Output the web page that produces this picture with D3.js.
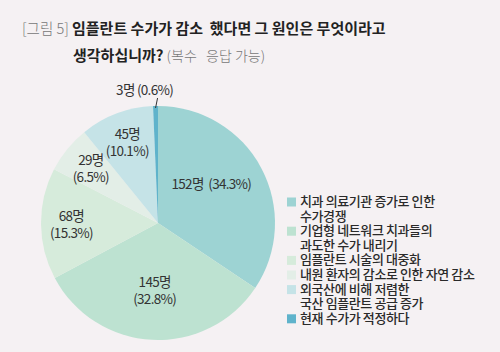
<!DOCTYPE html>
<html>
<head>
<meta charset="utf-8">
<script src="https://cdn.jsdelivr.net/npm/d3@7"></script>
<style>
  body { margin: 0; background: #f5f1f3; }
  svg { display: block; font-family: "Noto Sans CJK KR", sans-serif; }
  text { white-space: pre; }
</style>
</head>
<body>
<svg id="chart" width="500" height="352"></svg>
<script>
const categories = [
  ["치과 의료기관 증가로 인한", "수가경쟁"],
  ["기업형 네트워크 치과들의", "과도한 수가 내리기"],
  ["임플란트 시술의 대중화"],
  ["내원 환자의 감소로 인한 자연 감소"],
  ["외국산에 비해 저렴한", "국산 임플란트 공급 증가"],
  ["현재 수가가 적정하다"]
];
const counts = [152, 145, 68, 29, 45, 3];
const percents = ["34.3", "32.8", "15.3", "6.5", "10.1", "0.6"];
const colors = ["#9dd3d3", "#bde2d1", "#d6ebdb", "#e3eee7", "#c5e3e7", "#5fb3cb"];

const svg = d3.select("#chart");

// title
const title = svg.append("text").attr("x", 22).attr("y", 34).attr("font-size", 15);
title.append("tspan").attr("fill", "#777").attr("font-weight", 300).attr("font-size", 14.5).text("[그림 5] ");
title.append("tspan").attr("fill", "#222").attr("font-weight", 700).text("임플란트 수가가 감소  했다면 그 원인은 무엇이라고");
const title2 = svg.append("text").attr("x", 73).attr("y", 61).attr("font-size", 15);
title2.append("tspan").attr("fill", "#222").attr("font-weight", 700).text("생각하십니까?");
title2.append("tspan").attr("fill", "#777").attr("font-weight", 300).attr("font-size", 14).text(" (복수   응답 가능)");

// pie
const cx = 158, cy = 223, r = 117;
const data = counts.map((v, i) => ({ value: v, pct: percents[i], color: colors[i], i }));
const pie = d3.pie().value(d => d.value).sort(null);
const arc = d3.arc().innerRadius(0).outerRadius(r);
const arcs = pie(data);

const g = svg.append("g").attr("transform", `translate(${cx},${cy})`);
g.selectAll("path")
  .data(arcs)
  .join("path")
  .attr("d", arc)
  .attr("fill", d => d.data.color);

const labelArc = d => d3.arc().innerRadius(0)
  .outerRadius(d.data.value > 100 ? r * 1.15 : r * 1.48);

const labels = g.selectAll("g.lab")
  .data(arcs.filter(d => d.data.value > 10))
  .join("g")
  .attr("class", "lab")
  .attr("transform", d => {
    const [x, y] = labelArc(d).centroid(d);
    return d.index === 0 ? `translate(${x - 6},${y - 7})` : `translate(${x},${y})`;
  });

labels.each(function(d) {
  const t = d3.select(this).append("text")
    .attr("text-anchor", "middle")
    .attr("font-size", 13.5)
    .attr("fill", "#333")
    .attr("letter-spacing", -0.7);
  if (d.index === 0) {
    t.attr("dy", 5).text(`${d.data.value}명  (${d.data.pct}%)`);
  } else {
    t.append("tspan").attr("x", 0).attr("dy", -3).text(`${d.data.value}명`);
    t.append("tspan").attr("x", 0).attr("dy", 17).text(`(${d.data.pct}%)`);
  }
});

// small slice label with leader line
const small = arcs.filter(d => d.data.value <= 10)[0];
const ang = (small.startAngle + small.endAngle) / 2;
const p0 = [Math.sin(ang) * (r - 2), -Math.cos(ang) * (r - 2)];
const p1 = [p0[0] + 2, p0[1] - 10];
g.append("line")
  .attr("x1", p0[0]).attr("y1", p0[1])
  .attr("x2", p1[0]).attr("y2", p1[1])
  .attr("stroke", "#333").attr("stroke-width", 1);
g.append("text")
  .attr("x", p1[0] - 13).attr("y", p1[1] - 3)
  .attr("text-anchor", "middle")
  .attr("font-size", 13.5).attr("fill", "#333").attr("letter-spacing", -0.7)
  .text(`${small.data.value}명 (${small.data.pct}%)`);

// legend
const lineH = 14.6;
let row = 0;
const legend = svg.append("g").attr("transform", "translate(287,206)");
categories.forEach((lines, i) => {
  const y = row * lineH;
  legend.append("rect")
    .attr("x", 0).attr("y", y - 8.5)
    .attr("width", 9).attr("height", 9)
    .attr("fill", colors[i]);
  lines.forEach((s, j) => {
    legend.append("text")
      .attr("x", 13).attr("y", y + j * lineH)
      .attr("font-size", 13).attr("font-weight", 500)
      .attr("fill", "#2a2a2a").attr("letter-spacing", -0.4)
      .text(s);
  });
  row += lines.length;
});
</script>
</body>
</html>
